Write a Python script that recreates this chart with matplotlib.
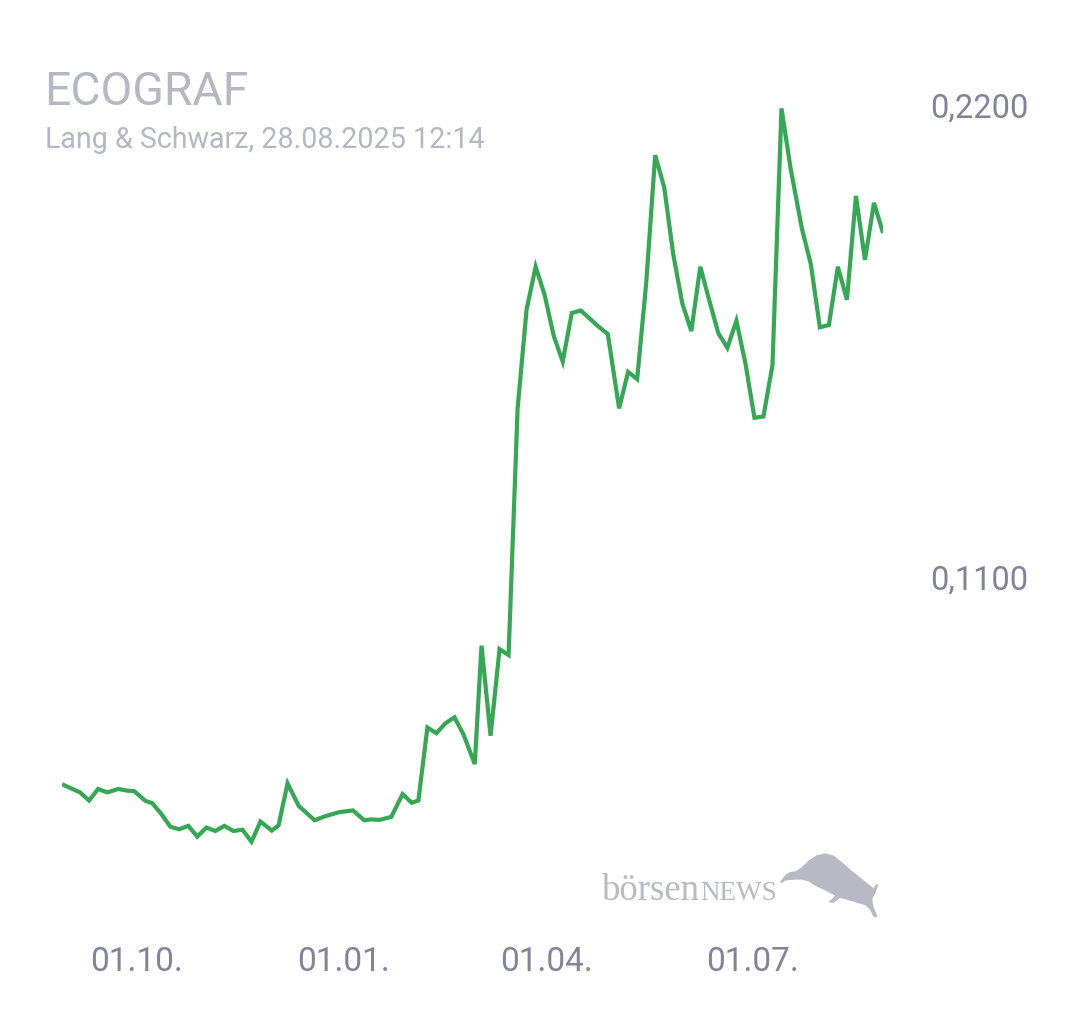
import matplotlib
matplotlib.use("Agg")
import matplotlib.pyplot as plt
from matplotlib.patches import Polygon
from matplotlib.ticker import FuncFormatter
import pandas as pd

dates = [
    "2024-08-29", "2024-09-06", "2024-09-10", "2024-09-14", "2024-09-18", "2024-09-23",
    "2024-09-27", "2024-09-30", "2024-10-05", "2024-10-08", "2024-10-12", "2024-10-16",
    "2024-10-20", "2024-10-24", "2024-10-28", "2024-11-01", "2024-11-05", "2024-11-09",
    "2024-11-13", "2024-11-17", "2024-11-21", "2024-11-25", "2024-11-30", "2024-12-03",
    "2024-12-07", "2024-12-12", "2024-12-15", "2024-12-19", "2024-12-24", "2024-12-30",
    "2025-01-05", "2025-01-10", "2025-01-13", "2025-01-17", "2025-01-22", "2025-01-27",
    "2025-01-31", "2025-02-03", "2025-02-07", "2025-02-11", "2025-02-15", "2025-02-19",
    "2025-02-23", "2025-02-28", "2025-03-03", "2025-03-07", "2025-03-11", "2025-03-15",
    "2025-03-19", "2025-03-23", "2025-03-27", "2025-03-31", "2025-04-04", "2025-04-08",
    "2025-04-12", "2025-04-16", "2025-04-24", "2025-04-28", "2025-05-03", "2025-05-07",
    "2025-05-11", "2025-05-15", "2025-05-19", "2025-05-23", "2025-05-27", "2025-05-31",
    "2025-06-04", "2025-06-08", "2025-06-12", "2025-06-16", "2025-06-20", "2025-06-24",
    "2025-06-28", "2025-07-02", "2025-07-06", "2025-07-10", "2025-07-14", "2025-07-18",
    "2025-07-23", "2025-07-27", "2025-07-31", "2025-08-04", "2025-08-08", "2025-08-12",
    "2025-08-16", "2025-08-20", "2025-08-24", "2025-08-28",
]
prices = [
    0.0617, 0.0598, 0.0579, 0.0606, 0.0598, 0.0606,
    0.0602, 0.0601, 0.0578, 0.0573, 0.0548, 0.0518,
    0.0512, 0.0520, 0.0495, 0.0516, 0.0508, 0.0520,
    0.0508, 0.0511, 0.0483, 0.0530, 0.0509, 0.0521,
    0.0619, 0.0566, 0.0552, 0.0533, 0.0543, 0.0552,
    0.0556, 0.0533, 0.0535, 0.0534, 0.0541, 0.0594,
    0.0574, 0.0579, 0.0749, 0.0736, 0.0759, 0.0773,
    0.0733, 0.0664, 0.0940, 0.0730, 0.0932, 0.0918,
    0.1493, 0.1724, 0.1823, 0.1757, 0.1662, 0.1602,
    0.1715, 0.1721, 0.1683, 0.1666, 0.1493, 0.1578,
    0.1561, 0.1784, 0.2083, 0.2008, 0.1852, 0.1738,
    0.1673, 0.1823, 0.1744, 0.1668, 0.1634, 0.1697,
    0.1598, 0.1471, 0.1474, 0.1594, 0.2192, 0.2053,
    0.1913, 0.1829, 0.1682, 0.1687, 0.1823, 0.1746,
    0.1988, 0.1839, 0.1972, 0.1902,
]
y_ticks = [0.11, 0.22]
x_tick_dates = ["2024-10-01", "2025-01-01", "2025-04-01", "2025-07-01"]
x_tick_labels = ["01.10.", "01.01.", "01.04.", "01.07."]
title = "ECOGRAF"
subtitle = "Lang & Schwarz, 28.08.2025 12:14"

plt.rcParams["font.family"] = ["Roboto", "DejaVu Sans"]

W, H = 1080, 1013
fig = plt.figure(figsize=(W / 100, H / 100), dpi=100)
fig.patch.set_facecolor("white")

x = pd.to_datetime(dates)
ylo, yhi = 0.046, 0.222
ax_left, ax_right = 62 / W, 883 / W
ax_bottom = 1 - 851.6 / H
ax_height = (851.6 - 96.4) / H
ax = fig.add_axes([ax_left, ax_bottom, ax_right - ax_left, ax_height])
ax.set_facecolor("none")

ax.plot(x, prices, color="#34a853", lw=3.0, solid_joinstyle="miter", solid_capstyle="butt")
ax.set_xlim(x[0], x[-1])
ax.set_ylim(ylo, yhi)

for s in ax.spines.values():
    s.set_visible(False)

label_color = "#82829a"
ax.yaxis.tick_right()
ax.set_yticks(y_ticks)
ax.yaxis.set_major_formatter(FuncFormatter(lambda v, p: f"{v:.4f}".replace(".", ",")))
ax.tick_params(axis="y", length=0, pad=34, labelsize=23.5, labelcolor=label_color)

ax.set_xticks(pd.to_datetime(x_tick_dates))
ax.set_xticklabels(x_tick_labels)
ax.tick_params(axis="x", length=0, pad=68, labelsize=24, labelcolor=label_color)

title_color = "#b6b6c4"
fig.text(44 / W, 1 - 105 / H, title, fontsize=33.3, color=title_color, ha="left", va="baseline")
fig.text(45 / W, 1 - 148 / H, subtitle, fontsize=20.6, color=title_color, ha="left", va="baseline")

# watermark
wm_color = "#b9b9c6"
serif = ["Liberation Serif", "DejaVu Serif"]
fig.text(602 / W, 1 - 900 / H, "börsen", fontsize=26.5, color=wm_color,
         family=serif, ha="left", va="baseline")
fig.text(700 / W, 1 - 900 / H, "NEWS", fontsize=19.5, color=wm_color,
         family=serif, ha="left", va="baseline")

bull_zoomed = [
    (15, 102), (30, 82), (45, 72), (62, 70), (80, 58), (100, 38), (125, 22), (150, 16),
    (175, 22), (200, 42), (230, 68), (260, 92), (285, 112), (296, 122), (302, 110),
    (310, 108), (306, 122), (300, 138), (292, 152), (294, 172), (302, 192), (308, 208),
    (296, 206), (284, 184), (272, 172), (245, 164), (215, 155), (195, 150), (185, 158),
    (175, 165), (160, 162), (172, 152), (180, 142), (160, 132), (135, 120), (115, 110),
    (100, 100), (80, 95), (60, 95), (42, 96), (30, 98), (20, 106),
]
bull = [((775 + zx / 3) / W, 1 - (848 + zy / 3) / H) for zx, zy in bull_zoomed]
fig.add_artist(Polygon(bull, closed=True, transform=fig.transFigure,
                       facecolor=wm_color, edgecolor="none"))

fig.savefig("out.png", dpi=100, facecolor="white")
